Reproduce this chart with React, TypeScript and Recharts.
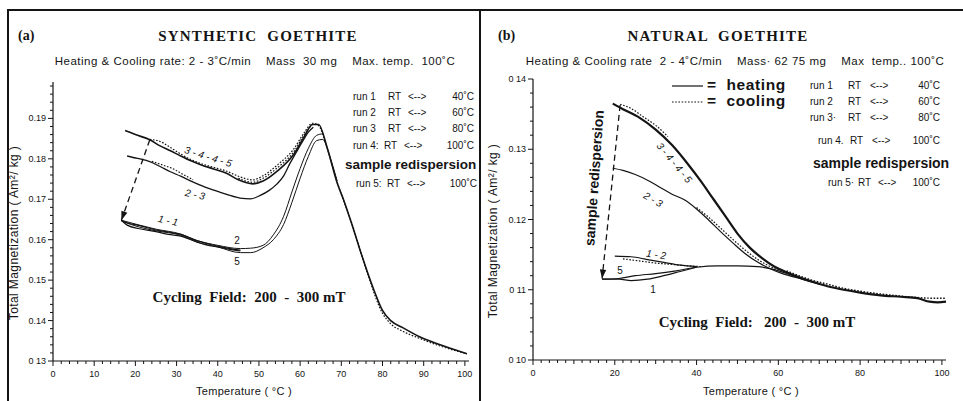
import React from 'react';
import { LineChart, Line, XAxis, YAxis } from 'recharts';

const SANS = '"Liberation Sans", Arial, sans-serif';
const SERIF = '"Liberation Serif", "Times New Roman", serif';
const INK = '#141414';

// ---------- (a) synthetic goethite ----------
const synHighT = [17.5, 20, 23.5, 26, 28.5, 31, 33.5, 36, 39, 42, 45, 48.5, 51, 54.5, 58.5, 61, 63, 64.5, 66.5, 69, 70.5, 72.5, 74.5, 76.5, 78.5, 80, 82, 85, 89, 94, 100.5];
const synHighV = [0.187, 0.186, 0.1847, 0.1832, 0.182, 0.1807, 0.1795, 0.1785, 0.1775, 0.1765, 0.1748, 0.1738, 0.1745, 0.177, 0.1812, 0.1855, 0.1885, 0.1885, 0.183, 0.174, 0.17, 0.164, 0.1576, 0.1515, 0.146, 0.1425, 0.14, 0.1382, 0.136, 0.134, 0.1318];
const synHighCoolT = [23.5, 26, 28.5, 31, 33.5, 36, 39, 42, 45, 48.5, 51, 54.5, 58.5, 61, 63, 64.5, 66.5, 69, 72.5, 76.5, 80, 82, 85, 89, 94, 100.5];
const synHighCoolV = [0.1848, 0.1843, 0.1828, 0.1812, 0.1798, 0.1788, 0.1779, 0.177, 0.1757, 0.1748, 0.1758, 0.1785, 0.1825, 0.1865, 0.1888, 0.1882, 0.1828, 0.1742, 0.1642, 0.1512, 0.1418, 0.1392, 0.1373, 0.1356, 0.1337, 0.1318];
const synHighCool2T = [45, 48.5, 51, 54.5, 58.5, 61, 63];
const synHighCool2V = [0.1752, 0.1742, 0.1752, 0.1778, 0.1818, 0.186, 0.1886];
const syn23T = [18, 20.5, 23.5, 26, 28.5, 31, 33.5, 36.5, 39.8, 42.5, 45.4, 48, 50.2, 52.5, 54.4, 56, 57.5, 59, 60.7, 62, 63.2];
const syn23V = [0.1807, 0.1801, 0.1793, 0.1781, 0.1768, 0.1757, 0.1745, 0.1732, 0.172, 0.1711, 0.1703, 0.1701, 0.1709, 0.1722, 0.1738, 0.1758, 0.1788, 0.1815, 0.1845, 0.1866, 0.1878];
const syn23CoolT = [24, 26.5, 29, 31.5, 34];
const syn23CoolV = [0.1794, 0.1785, 0.1776, 0.1762, 0.1748];
const syn11T = [16.6, 18, 21, 25, 28, 31, 35, 38, 40, 43, 45.5];
const syn11aV = [0.1648, 0.1642, 0.1635, 0.1624, 0.1619, 0.1613, 0.1597, 0.1589, 0.1584, 0.1578, 0.1574];
const syn11bV = [0.1648, 0.1636, 0.1627, 0.162, 0.1613, 0.1609, 0.1594, 0.1585, 0.1582, 0.1576, 0.1572];
const synRun2T = [16.6, 21, 25, 31, 35, 40, 45.5, 48, 51, 53.5, 56, 58, 60, 62, 64, 65.5];
const synRun2V = [0.1648, 0.1636, 0.1626, 0.1614, 0.1598, 0.1586, 0.1578, 0.1579, 0.1586, 0.1612, 0.1658, 0.1718, 0.1776, 0.1826, 0.1858, 0.1862];
const synRun5T = [16.6, 21, 25, 31, 35, 40, 45.5, 48, 51, 53.5, 56, 58, 60, 62, 64, 65.5, 67, 69];
const synRun5V = [0.1646, 0.1631, 0.1622, 0.1611, 0.1594, 0.1582, 0.1568, 0.1568, 0.158, 0.16, 0.1638, 0.1692, 0.1752, 0.1806, 0.1845, 0.1848, 0.1812, 0.1745];
const synArrowT = [23.5, 16.6];
const synArrowV = [0.1847, 0.1648];
const synYMajor = [0.13, 0.14, 0.15, 0.16, 0.17, 0.18, 0.19];
const synYText = ['0 13', '0.14', '0.15', '0.16', '0.17', '0.18', '0.19'];
const synXMajor = [0, 10, 20, 30, 40, 50, 60, 70, 80, 90, 100];

// ---------- (b) natural goethite ----------
const natHighT = [19.5, 22, 26, 30, 34, 38, 41, 44, 47, 50, 53, 56, 59, 62, 65, 68, 72, 76, 80, 85, 90, 94, 97, 99, 101];
const natHighV = [0.1365, 0.1357, 0.1345, 0.1328, 0.1306, 0.1278, 0.1255, 0.123, 0.1205, 0.118, 0.116, 0.1145, 0.1133, 0.1125, 0.1118, 0.1112, 0.1105, 0.11, 0.1096, 0.1092, 0.109, 0.1088, 0.1083, 0.1082, 0.1083];
const natHighCoolT = [21.3, 24, 27, 30, 33];
const natHighCoolV = [0.1364, 0.1358, 0.1346, 0.1334, 0.1318];
const natTailCoolT = [62, 65, 68, 72, 76, 80, 85, 90, 94, 97, 101];
const natTailCoolV = [0.1127, 0.112, 0.1114, 0.1108, 0.1102, 0.1098, 0.1094, 0.1091, 0.1089, 0.1088, 0.1088];
const nat23T = [19.5, 22, 25, 28, 31, 34, 37, 40, 43, 46, 49, 52, 55, 58, 61, 64, 67];
const nat23V = [0.1273, 0.127, 0.1264, 0.1256, 0.1246, 0.1236, 0.1228, 0.1215, 0.1199, 0.1182, 0.1166, 0.1151, 0.1139, 0.113, 0.1123, 0.1118, 0.1114];
const nat23CoolT = [40, 43, 46, 49, 52, 55, 58, 61, 64];
const nat23CoolV = [0.1217, 0.1203, 0.1187, 0.1171, 0.1156, 0.1143, 0.1133, 0.1126, 0.112];
const nat12T = [20, 24, 28, 32, 36, 40];
const nat12V = [0.1148, 0.1147, 0.1143, 0.1139, 0.1135, 0.1133];
const nat12CoolT = [22, 26, 30, 34, 38, 41];
const nat12CoolV = [0.1144, 0.1141, 0.1138, 0.1136, 0.1134, 0.1133];
const nat1T = [16.9, 21, 24, 28, 32, 36, 40];
const nat1V = [0.1115, 0.1115, 0.1113, 0.1115, 0.112, 0.1126, 0.1132];
const nat5T = [16.9, 21, 25, 30, 35, 40, 45, 50, 55, 58, 61, 64, 67, 70];
const nat5V = [0.1115, 0.1116, 0.112, 0.1123, 0.1127, 0.1132, 0.1134, 0.1134, 0.1133, 0.113, 0.1125, 0.1119, 0.1113, 0.1108];
const natArrowT = [21.3, 16.9];
const natArrowV = [0.1363, 0.1116];
const natYMajor = [0.1, 0.11, 0.12, 0.13, 0.14];
const natYText = ['0 10', '0 11', '0.12', '0.13', '0 14'];
const natXMajor = [0, 20, 40, 60, 80, 100];

const zip = (t: number[], v: number[]) => t.map((x, i) => ({ t: x, v: v[i] }));
const steps = (from: number, step: number, n: number) =>
  Array.from({ length: n + 1 }, (_, i) => Math.round((from + i * step) * 10000) / 10000);

const near = (a: number, b: number) => Math.abs(a - b) < 1e-6;

const makeYTick = (major: number[], text: string[]) => (p: any) => {
  const { x, y, payload } = p;
  const idx = major.findIndex((m) => near(m, payload.value));
  const len = idx >= 0 ? 5 : 3;
  return (
    <g>
      <line x1={x - len} x2={x} y1={y} y2={y} stroke={INK} strokeWidth={1} />
      {idx >= 0 && (
        <text x={x - 7} y={y + 3} textAnchor="end" fontSize={9} fontFamily={SANS} fill={INK}>
          {text[idx]}
        </text>
      )}
    </g>
  );
};

const makeXTick = (major: number[]) => (p: any) => {
  const { x, y, payload } = p;
  const isMaj = major.some((m) => near(m, payload.value));
  const mid = !isMaj && near(payload.value % 10, 0);
  const len = isMaj ? 5 : mid ? 4 : 3;
  return (
    <g>
      <line x1={x} x2={x} y1={y} y2={y + len} stroke={INK} strokeWidth={1} />
      {isMaj && (
        <text x={x} y={y + 16} textAnchor="middle" fontSize={9} fontFamily={SANS} fill={INK}>
          {payload.value}
        </text>
      )}
    </g>
  );
};

const ArrowDot = (p: any) => {
  const { cx, cy, index, points } = p;
  if (index !== 1) return <g key={`ad${index}`} />;
  const a = points && points[0] ? points[0] : { x: cx + 8, y: cy - 60 };
  const ang = Math.atan2(cy - a.y, cx - a.x);
  const L = 9;
  const W = 3.2;
  const bx = cx - L * Math.cos(ang);
  const by = cy - L * Math.sin(ang);
  const px = -Math.sin(ang) * W;
  const py = Math.cos(ang) * W;
  return (
    <polygon
      key={`ad${index}`}
      points={`${cx},${cy} ${bx + px},${by + py} ${bx - px},${by - py}`}
      fill={INK}
    />
  );
};

type S = { t: number[]; v: number[]; w?: number; dash?: string };

const curve = (s: S, i: number) => (
  <Line
    key={i}
    data={zip(s.t, s.v)}
    dataKey="v"
    type="monotone"
    stroke={INK}
    strokeWidth={s.w ?? 1.2}
    strokeDasharray={s.dash}
    dot={false}
    isAnimationActive={false}
  />
);

const DOT = '1.6 1.6';

const synCurves: S[] = [
  { t: synHighT, v: synHighV, w: 1.6 },
  { t: synHighCoolT, v: synHighCoolV, dash: DOT },
  { t: synHighCool2T, v: synHighCool2V, dash: DOT },
  { t: syn23T, v: syn23V, w: 1.3 },
  { t: syn23CoolT, v: syn23CoolV, dash: DOT },
  { t: syn11T, v: syn11aV },
  { t: syn11T, v: syn11bV },
  { t: synRun2T, v: synRun2V, w: 1 },
  { t: synRun5T, v: synRun5V, w: 1 },
];

const natCurves: S[] = [
  { t: natHighT, v: natHighV, w: 2.2 },
  { t: natHighCoolT, v: natHighCoolV, dash: DOT },
  { t: natTailCoolT, v: natTailCoolV, dash: DOT, w: 1.4 },
  { t: nat23T, v: nat23V, w: 1.2 },
  { t: nat23CoolT, v: nat23CoolV, dash: DOT },
  { t: nat12T, v: nat12V },
  { t: nat12CoolT, v: nat12CoolV, dash: DOT },
  { t: nat1T, v: nat1V },
  { t: nat5T, v: nat5V },
];

const Txt = ({
  x, y, children, size = 10, font = SANS, weight = 400, rot = 0, center = false, italic = false, spacing = 0,
}: any) => (
  <div
    style={{
      position: 'absolute',
      left: x,
      top: y,
      transform: `${center ? 'translate(-50%,-50%)' : 'translateY(-50%)'} rotate(${rot}deg)`,
      fontSize: size,
      fontFamily: font,
      fontWeight: weight,
      fontStyle: italic ? 'italic' : 'normal',
      letterSpacing: spacing,
      whiteSpace: 'pre',
      lineHeight: 1,
      color: INK,
    }}
  >
    {children}
  </div>
);

const RunRow = ({ y, cols, texts }: { y: number; cols: number[]; texts: string[] }) => (
  <>
    <Txt x={cols[0]} y={y} size={10}>{texts[0]}</Txt>
    <Txt x={cols[1]} y={y} size={10}>{texts[1]}</Txt>
    <Txt x={cols[2]} y={y} size={10}>{texts[2]}</Txt>
    <div
      style={{
        position: 'absolute', right: 963 - cols[3], top: y, transform: 'translateY(-50%)',
        fontSize: 10, fontFamily: SANS, lineHeight: 1, whiteSpace: 'pre', color: INK,
      }}
    >
      {texts[3]}
    </div>
  </>
);

export default function App() {
  const synYTicks = steps(0.13, 0.002, 34);
  const natYTicks = steps(0.1, 0.002, 20);
  const xTicks = steps(0, 2, 50);
  const yLabel = 'Total Magnetization ( Am\u00b2/ kg )';

  return (
    <div style={{ position: 'absolute', left: 0, top: 0, width: 963, height: 401, background: '#fff', overflow: 'hidden' }}>
      {/* frame */}
      <div style={{ position: 'absolute', left: 7, top: 9, width: 956, height: 2, background: INK }} />
      <div style={{ position: 'absolute', left: 7, top: 9, width: 2, height: 392, background: INK }} />
      <div style={{ position: 'absolute', left: 479, top: 9, width: 2, height: 392, background: INK }} />

      <div style={{ position: 'absolute', left: 0, top: 0 }}>
        <LineChart width={480} height={401} margin={{ top: 82, right: 11, bottom: 0, left: 0 }}>
          <XAxis
            dataKey="t" type="number" domain={[0, 101]} ticks={xTicks} interval={0}
            tickSize={0} tickMargin={0} tickLine={false} height={40}
            axisLine={{ stroke: INK, strokeWidth: 1.2 }} tick={makeXTick(synXMajor)}
          />
          <YAxis
            type="number" domain={[0.13, 0.199]} ticks={synYTicks} interval={0}
            tickSize={0} tickMargin={0} tickLine={false} width={53}
            axisLine={{ stroke: INK, strokeWidth: 1.2 }} tick={makeYTick(synYMajor, synYText)}
          />
          {synCurves.map(curve)}
          <Line
            data={zip(synArrowT, synArrowV)} dataKey="v" type="linear" stroke={INK} strokeWidth={1.3}
            strokeDasharray="6 4" dot={ArrowDot} isAnimationActive={false}
          />
        </LineChart>
      </div>

      <div style={{ position: 'absolute', left: 480, top: 0 }}>
        <LineChart width={483} height={401} margin={{ top: 79, right: 17, bottom: 0, left: 0 }}>
          <XAxis
            dataKey="t" type="number" domain={[0, 101]} ticks={xTicks} interval={0}
            tickSize={0} tickMargin={0} tickLine={false} height={41}
            axisLine={{ stroke: INK, strokeWidth: 1.2 }} tick={makeXTick(natXMajor)}
          />
          <YAxis
            type="number" domain={[0.1, 0.14]} ticks={natYTicks} interval={0}
            tickSize={0} tickMargin={0} tickLine={false} width={53}
            axisLine={{ stroke: INK, strokeWidth: 1.2 }} tick={makeYTick(natYMajor, natYText)}
          />
          {natCurves.map(curve)}
          <Line
            data={zip(natArrowT, natArrowV)} dataKey="v" type="linear" stroke={INK} strokeWidth={1.3}
            strokeDasharray="6 4" dot={ArrowDot} isAnimationActive={false}
          />
        </LineChart>
      </div>

      {/* ---- panel (a) texts ---- */}
      <Txt x={18} y={36} size={14} font={SERIF} weight={700}>(a)</Txt>
      <Txt x={258} y={36} size={15} font={SERIF} weight={700} center spacing={1.2}>SYNTHETIC  GOETHITE</Txt>
      <Txt x={255} y={62} size={11.5} spacing={0.5} center>{'Heating & Cooling rate: 2 - 3\u02daC/min    Mass  30 mg    Max. temp.  100\u02daC'}</Txt>
      <RunRow y={97} cols={[353, 388, 408, 474]} texts={['run 1', 'RT', '<-->', '40\u02daC']} />
      <RunRow y={113} cols={[353, 388, 408, 474]} texts={['run 2', 'RT', '<-->', '60\u02daC']} />
      <RunRow y={129} cols={[353, 388, 408, 474]} texts={['run 3', 'RT', '<-->', '80\u02daC']} />
      <RunRow y={146} cols={[353, 384, 404, 474]} texts={['run 4:', 'RT', '<-->', '100\u02daC']} />
      <Txt x={345} y={165} size={13.5} weight={700}>sample redispersion</Txt>
      <RunRow y={184} cols={[356, 387, 407, 477]} texts={['run 5:', 'RT', '<-->', '100\u02daC']} />
      <Txt x={208} y={157} size={10} italic center rot={17}>3 - 4 - 4 - 5</Txt>
      <Txt x={195} y={195} size={10} italic center rot={12}>2 - 3</Txt>
      <Txt x={168} y={221} size={10} italic center rot={12}>1 - 1</Txt>
      <Txt x={237} y={241} size={10} center>2</Txt>
      <Txt x={237} y={262} size={10} center>5</Txt>
      <Txt x={249} y={297} size={15} font={SERIF} weight={700} center>{'Cycling  Field:  200  -  300 mT'}</Txt>
      <Txt x={14} y={233} size={12} spacing={0.4} center rot={-90}>{yLabel}</Txt>
      <Txt x={244} y={391} size={11} spacing={0.3} center>{'Temperature ( \u00b0C )'}</Txt>

      {/* ---- panel (b) texts ---- */}
      <Txt x={498} y={36} size={14} font={SERIF} weight={700}>(b)</Txt>
      <Txt x={718} y={36} size={15} font={SERIF} weight={700} center spacing={1.2}>NATURAL  GOETHITE</Txt>
      <Txt x={735} y={62} size={11.5} spacing={0.5} center>{'Heating & Cooling rate  2 - 4\u02daC/min    Mass\u00b7 62 75 mg    Max  temp.. 100\u02daC'}</Txt>
      <svg style={{ position: 'absolute', left: 0, top: 0 }} width={963} height={401}>
        <line x1={672} x2={703} y1={86} y2={86} stroke={INK} strokeWidth={1.2} />
        <line x1={672} x2={703} y1={102} y2={102} stroke={INK} strokeWidth={1.2} strokeDasharray={DOT} />
      </svg>
      <Txt x={707} y={85} size={15.5} weight={700} spacing={0.6}>{'=  heating'}</Txt>
      <Txt x={707} y={101} size={15.5} weight={700} spacing={0.6}>{'=  cooling'}</Txt>
      <RunRow y={86} cols={[810, 848, 870, 940]} texts={['run 1', 'RT', '<-->', '40\u02daC']} />
      <RunRow y={102} cols={[810, 848, 870, 940]} texts={['run 2', 'RT', '<-->', '60\u02daC']} />
      <RunRow y={118} cols={[810, 848, 870, 940]} texts={['run 3\u00b7', 'RT', '<-->', '80\u02daC']} />
      <RunRow y={141} cols={[818, 850, 872, 940]} texts={['run 4.', 'RT', '<-->', '100\u02daC']} />
      <Txt x={813} y={163} size={14} weight={700}>sample redispersion</Txt>
      <RunRow y={183} cols={[828, 858, 878, 940]} texts={['run 5\u00b7', 'RT', '<-->', '100\u02daC']} />
      <Txt x={594} y={178} size={14} weight={700} center rot={-86}>sample redispersion</Txt>
      <Txt x={674} y={163} size={10} italic center rot={50}>3 - 4 - 4 - 5</Txt>
      <Txt x={653} y={200} size={10} italic center rot={30}>2 - 3</Txt>
      <Txt x={656} y={255} size={10} italic center rot={8}>1 - 2</Txt>
      <Txt x={620} y={271} size={10} center>5</Txt>
      <Txt x={653} y={290} size={10} center>1</Txt>
      <Txt x={757} y={322} size={15} font={SERIF} weight={700} center>{'Cycling  Field:   200  -  300 mT'}</Txt>
      <Txt x={493} y={231} size={12} spacing={0.4} center rot={-90}>{yLabel}</Txt>
      <Txt x={751} y={391} size={11} spacing={0.3} center>{'Temperature ( \u00b0C )'}</Txt>
    </div>
  );
}
